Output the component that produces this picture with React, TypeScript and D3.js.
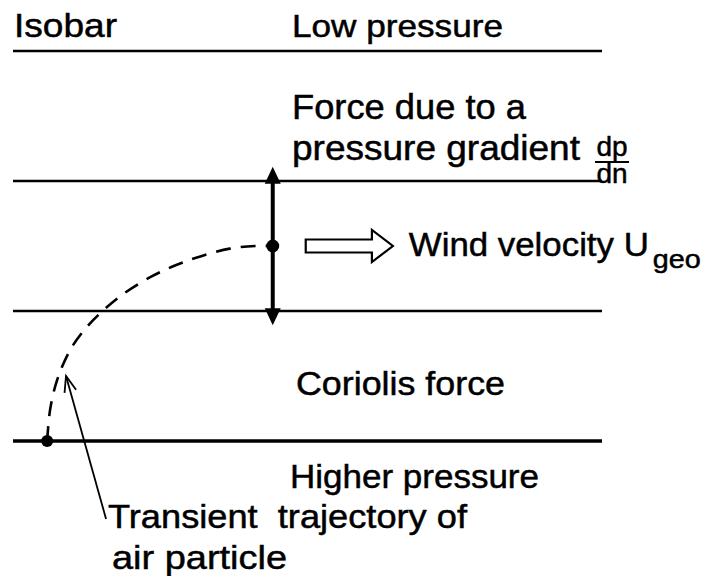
import { scaleLinear, line, curveCatmullRom } from 'd3'

// isobar levels, 0 = low pressure (top), 3 = higher pressure (bottom)
const isobarLevels = [0, 1, 2, 3]

// particle trajectory: [x (0-100 across the isobars), level]
const trajectory: [number, number][] = [
  [5.8, 3.0],
  [6.3, 2.76],
  [7.5, 2.53],
  [9.7, 2.3],
  [12.4, 2.13],
  [15.45, 1.99],
  [19.0, 1.86],
  [23.3, 1.74],
  [27.5, 1.65],
  [31.8, 1.58],
  [36.8, 1.52],
  [41.1, 1.5],
  [44.1, 1.5],
]

// particle in geostrophic balance and the two forces on it
const particle = { x: 44.1, level: 1.5 }
const forceLevels = [0.89, 2.11] // pressure gradient force tip, coriolis force tip
const windArrow = { from: 49.7, to: 64.5 }
const pointer = { from: [15.8, 3.6], to: [9.0, 2.5] } // leader from the trajectory label

const labelTexts = [
  'Isobar',
  'Low pressure',
  'Force due to a',
  'pressure gradient',
  'Coriolis force',
  'Higher pressure',
  'Transient  trajectory of',
  'air particle',
]
const labelX = [0.17, 47.37, 47.37, 47.37, 48.05, 47.03, 16.13, 16.81]
const labelLevel = [-0.108, -0.108, 0.523, 0.838, 2.646, 3.362, 3.669, 3.985]

const fraction = { num: 'dp', den: 'dn', x: 101.7, level: 0.854 }
const wind = { text: 'Wind velocity U', sub: 'geo', x: 67.2, level: 1.577 }

const W = 702
const H = 576
const FONT = "'Liberation Sans', Arial, Helvetica, sans-serif"
// rendered widths / sizes of the labels in the scan
const labelWidth = [103, 211, 234, 288, 209, 249, 359, 175]
const labelSize = [34, 32, 35, 35, 34, 34, 34, 34]

export default function App() {
  const x = scaleLinear().domain([0, 100]).range([13, 602])
  const y = scaleLinear().domain([0, 3]).range([51, 441])

  const path = line<[number, number]>()
    .x((d) => x(d[0]))
    .y((d) => y(d[1]))
    .curve(curveCatmullRom.alpha(0.5))

  const px = x(particle.x)
  const py = y(particle.level)
  const topTip = y(forceLevels[0])
  const botTip = y(forceLevels[1])
  const head = 17

  // hollow wind arrow
  const wx0 = x(windArrow.from)
  const wx1 = x(windArrow.to)
  const hb = wx1 - 21
  const windPts = [
    [wx0, py - 6.5],
    [hb, py - 6.5],
    [hb, py - 16],
    [wx1, py],
    [hb, py + 16],
    [hb, py + 6.5],
    [wx0, py + 6.5],
  ]

  // leader arrow with open head
  const lx0 = x(pointer.from[0])
  const ly0 = y(pointer.from[1])
  const lx1 = x(pointer.to[0])
  const ly1 = y(pointer.to[1])
  const ang = Math.atan2(ly0 - ly1, lx0 - lx1)
  const barb = 17
  const spread = 0.36
  const b1 = [lx1 + barb * Math.cos(ang - spread), ly1 + barb * Math.sin(ang - spread)]
  const b2 = [lx1 + barb * Math.cos(ang + spread), ly1 + barb * Math.sin(ang + spread)]

  const fx = x(fraction.x)
  const fy = y(fraction.level)
  const wxText = x(wind.x)
  const wyText = y(wind.level)

  const ink = { fill: '#000', stroke: '#000', strokeWidth: 0.5 }

  return (
    <svg
      width={W}
      height={H}
      style={{ position: 'absolute', left: 0, top: 0, background: '#fff' }}
      fontFamily={FONT}
    >
      <rect width={W} height={H} fill="#fff" />

      {/* isobars */}
      {isobarLevels.map((l) => (
        <line
          key={l}
          x1={x(0)}
          x2={x(100)}
          y1={y(l)}
          y2={y(l)}
          stroke="#000"
          strokeWidth={l === 3 ? 3.5 : 2.6}
        />
      ))}

      {/* transient trajectory */}
      <path
        d={path(trajectory) ?? ''}
        fill="none"
        stroke="#000"
        strokeWidth={2.6}
        strokeDasharray="15 10"
      />
      <circle cx={x(trajectory[0][0])} cy={y(trajectory[0][1])} r={6} fill="#000" />

      {/* pressure gradient force / coriolis force */}
      <line x1={px} x2={px} y1={topTip + head - 2} y2={botTip - head + 2} stroke="#000" strokeWidth={4} />
      <polygon points={`${px},${topTip} ${px - 8},${topTip + head} ${px + 8},${topTip + head}`} fill="#000" />
      <polygon points={`${px},${botTip} ${px - 8},${botTip - head} ${px + 8},${botTip - head}`} fill="#000" />
      <circle cx={px} cy={py} r={6.5} fill="#000" />

      {/* wind velocity arrow */}
      <polygon points={windPts.map((p) => p.join(',')).join(' ')} fill="#fff" stroke="#000" strokeWidth={2.2} />

      {/* leader */}
      <line x1={lx0} y1={ly0} x2={lx1} y2={ly1} stroke="#000" strokeWidth={1.8} />
      <polyline
        points={`${b1[0]},${b1[1]} ${lx1},${ly1} ${b2[0]},${b2[1]}`}
        fill="none"
        stroke="#000"
        strokeWidth={1.8}
      />

      {/* labels */}
      {labelTexts.map((t, i) => (
        <text
          key={t}
          x={x(labelX[i])}
          y={y(labelLevel[i])}
          fontSize={labelSize[i]}
          textLength={labelWidth[i]}
          lengthAdjust="spacingAndGlyphs"
          xmlSpace="preserve"
          {...ink}
        >
          {t}
        </text>
      ))}

      <text x={wxText} y={wyText} fontSize={34} textLength={240} lengthAdjust="spacingAndGlyphs" {...ink}>
        {wind.text}
      </text>
      <text x={wxText + 244} y={wyText + 12} fontSize={26} textLength={48} lengthAdjust="spacingAndGlyphs" {...ink}>
        {wind.sub}
      </text>

      {/* dp / dn */}
      <text x={fx} y={fy - 6} fontSize={28} textAnchor="middle" {...ink}>
        {fraction.num}
      </text>
      <line x1={fx - 17} x2={fx + 17} y1={fy} y2={fy} stroke="#000" strokeWidth={2} />
      <text x={fx} y={fy + 21} fontSize={28} textAnchor="middle" {...ink}>
        {fraction.den}
      </text>
    </svg>
  )
}
